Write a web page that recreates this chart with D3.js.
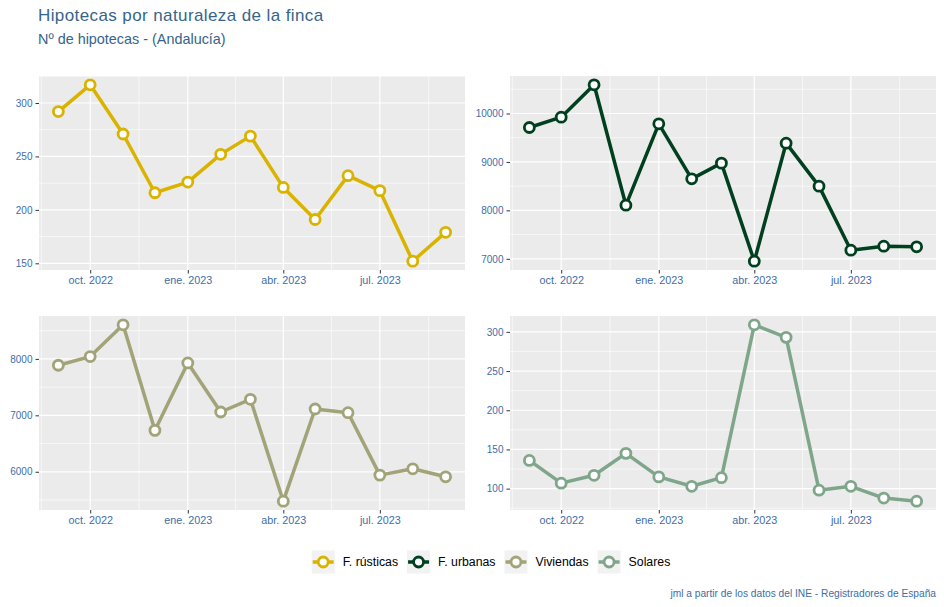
<!DOCTYPE html>
<html>
<head>
<meta charset="utf-8">
<script src="https://cdn.jsdelivr.net/npm/d3@7/dist/d3.min.js"></script>
<style>
  html, body { margin: 0; padding: 0; background: #ffffff; }
  svg { display: block; font-family: "Liberation Sans", Arial, sans-serif; }
</style>
</head>
<body>
<svg id="chart" width="944" height="607"></svg>
<script>
// ---- Data ----
const months = ["2022-09","2022-10","2022-11","2022-12","2023-01","2023-02","2023-03",
                "2023-04","2023-05","2023-06","2023-07","2023-08","2023-09"];
const rusticas  = [292, 317, 271, 216, 226, 252, 269, 221, 191, 232, 218, 152, 179];
const urbanas   = [9711, 9924, 10592, 8107, 9787, 8651, 8975, 6951, 9387, 8500, 7178, 7261, 7247];
const viviendas = [7888, 8041, 8604, 6734, 7929, 7059, 7284, 5479, 7112, 7047, 5941, 6053, 5911];
const solares   = [136, 107, 117, 145, 115, 103, 114, 309, 293, 98, 103, 88, 84];
const seriesNames = ["F. rústicas", "F. urbanas", "Viviendas", "Solares"];
const seriesColors = ["#D9B300", "#00401F", "#A2A378", "#7FA68A"];
const xTickDates = ["2022-10","2023-01","2023-04","2023-07"];
const xTickLabels = ["oct. 2022", "ene. 2023", "abr. 2023", "jul. 2023"];
const yTicks = [
  [150, 200, 250, 300],
  [7000, 8000, 9000, 10000],
  [6000, 7000, 8000],
  [100, 150, 200, 250, 300]
];
const titleText = "Hipotecas por naturaleza de la finca";
const subtitleText = "Nº de hipotecas - (Andalucía)";
const captionText = "jml a partir de los datos del INE - Registradores de España";

// ---- Layout ----
const svg = d3.select("#chart");
const parse = d3.timeParse("%Y-%m");
const dates = months.map(parse);
const allSeries = [rusticas, urbanas, viviendas, solares];
const panels = [
  {x0: 39, x1: 465, y0: 76, y1: 270},
  {x0: 510, x1: 936, y0: 76, y1: 270},
  {x0: 39, x1: 465, y0: 316, y1: 510},
  {x0: 510, x1: 936, y0: 316, y1: 510}
];
const blue = "#3E6DA8";

svg.append("text").attr("x", 38).attr("y", 21)
  .attr("font-size", 17).attr("letter-spacing", 0.4).attr("fill", "#36648B").text(titleText);
svg.append("text").attr("x", 38).attr("y", 43.5)
  .attr("font-size", 14.4).attr("fill", "#36648B").text(subtitleText);

// x domain with 5% expansion
const t0 = dates[0].getTime(), t1 = dates[dates.length - 1].getTime();
const pad = (t1 - t0) * 0.05;
const xDomain = [new Date(t0 - pad), new Date(t1 + pad)];
const xTicks = xTickDates.map(parse);
const step = xTicks[1] - xTicks[0];
const majorExt = [new Date(xTicks[0] - step), ...xTicks, new Date(+xTicks[xTicks.length-1] + step)];
const xMinor = [];
for (let i = 0; i < majorExt.length - 1; i++) xMinor.push(new Date((+majorExt[i] + +majorExt[i+1]) / 2));

allSeries.forEach((vals, i) => {
  const p = panels[i];
  const g = svg.append("g");
  const x = d3.scaleTime().domain(xDomain).range([p.x0, p.x1]);
  const [mn, mx] = d3.extent(vals);
  const ypad = (mx - mn) * 0.05;
  const y = d3.scaleLinear().domain([mn - ypad, mx + ypad]).range([p.y1, p.y0]);
  const yt = yTicks[i];
  const ystep = yt[1] - yt[0];
  const yMinor = [];
  for (let v = yt[0] - ystep / 2; v <= mx + ypad; v += ystep) if (v >= mn - ypad) yMinor.push(v);

  g.append("rect").attr("x", p.x0).attr("y", p.y0)
    .attr("width", p.x1 - p.x0).attr("height", p.y1 - p.y0).attr("fill", "#EBEBEB");

  g.selectAll(null).data(xMinor.filter(d => d >= xDomain[0] && d <= xDomain[1])).enter().append("line")
    .attr("x1", d => x(d)).attr("x2", d => x(d)).attr("y1", p.y0).attr("y2", p.y1)
    .attr("stroke", "#fff").attr("stroke-width", 0.6);
  g.selectAll(null).data(yMinor).enter().append("line")
    .attr("x1", p.x0).attr("x2", p.x1).attr("y1", d => y(d)).attr("y2", d => y(d))
    .attr("stroke", "#fff").attr("stroke-width", 0.6);
  g.selectAll(null).data(xTicks).enter().append("line")
    .attr("x1", d => x(d)).attr("x2", d => x(d)).attr("y1", p.y0).attr("y2", p.y1)
    .attr("stroke", "#fff").attr("stroke-width", 1.2);
  g.selectAll(null).data(yt).enter().append("line")
    .attr("x1", p.x0).attr("x2", p.x1).attr("y1", d => y(d)).attr("y2", d => y(d))
    .attr("stroke", "#fff").attr("stroke-width", 1.2);

  const xAxis = d3.axisBottom(x).tickValues(xTicks)
    .tickFormat((d, k) => xTickLabels[k]).tickSize(3.5).tickPadding(3);
  const xa = g.append("g").attr("transform", `translate(0,${p.y1})`).call(xAxis);
  xa.select(".domain").remove();
  xa.selectAll(".tick line").attr("stroke", "#333");
  xa.selectAll(".tick text").attr("fill", blue).attr("font-size", 10.8)
    .attr("font-family", "Liberation Sans, Arial, sans-serif");

  const yAxis = d3.axisLeft(y).tickValues(yt).tickFormat(d3.format("d")).tickSize(3.5).tickPadding(3);
  const ya = g.append("g").attr("transform", `translate(${p.x0},0)`).call(yAxis);
  ya.select(".domain").remove();
  ya.selectAll(".tick line").attr("stroke", "#333");
  ya.selectAll(".tick text").attr("fill", blue).attr("font-size", 10)
    .attr("font-family", "Liberation Sans, Arial, sans-serif");

  const line = d3.line().x((d, k) => x(dates[k])).y(d => y(d));
  g.append("path").datum(vals).attr("d", line).attr("fill", "none")
    .attr("stroke", seriesColors[i]).attr("stroke-width", 3.5).attr("stroke-linejoin", "round");
  g.selectAll(null).data(vals).enter().append("circle")
    .attr("cx", (d, k) => x(dates[k])).attr("cy", d => y(d)).attr("r", 5)
    .attr("fill", "#fff").attr("stroke", seriesColors[i]).attr("stroke-width", 2.8);
});

// legend (centered)
const legend = svg.append("g");
const keyW = 23, textGap = 8, itemGap = 9, cy = 562;
let cursor = 0;
const items = seriesNames.map((name, i) => {
  const it = legend.append("g");
  it.append("rect").attr("x", 0).attr("y", cy - keyW / 2).attr("width", keyW).attr("height", keyW).attr("fill", "#F2F2F2");
  it.append("line").attr("x1", 1).attr("x2", keyW - 1).attr("y1", cy).attr("y2", cy)
    .attr("stroke", seriesColors[i]).attr("stroke-width", 3.5);
  it.append("circle").attr("cx", keyW / 2).attr("cy", cy).attr("r", 5)
    .attr("fill", "#fff").attr("stroke", seriesColors[i]).attr("stroke-width", 2.8);
  const t = it.append("text").attr("x", keyW + textGap).attr("y", cy + 4.2).attr("font-size", 12.3)
    .attr("fill", "#000").text(name);
  const w = keyW + textGap + t.node().getComputedTextLength();
  it.attr("transform", `translate(${cursor},0)`);
  cursor += w + itemGap;
  return it;
});
const totalW = cursor - itemGap;
legend.attr("transform", `translate(${491 - totalW / 2},0)`);

svg.append("text").attr("x", 936).attr("y", 597).attr("text-anchor", "end")
  .attr("font-size", 10.2).attr("fill", blue).text(captionText);
</script>
</body>
</html>
